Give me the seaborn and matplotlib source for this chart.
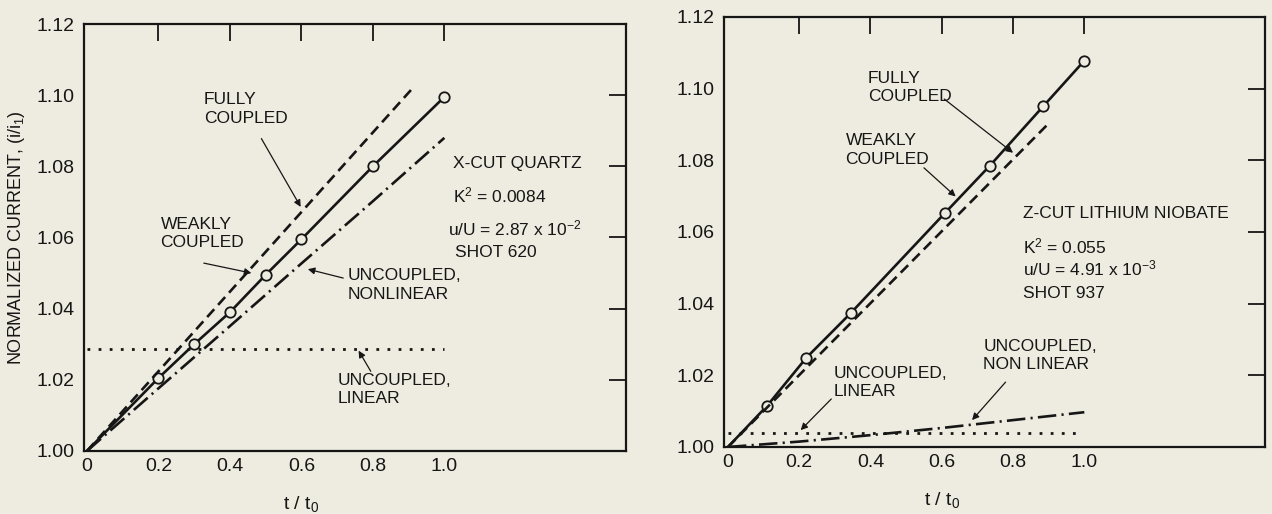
import numpy as np
import seaborn as sns
import matplotlib.pyplot as plt

# ---- data ----
t_ticks = [0, 0.2, 0.4, 0.6, 0.8, 1.0]
t_tick_labels = ["0", "0.2", "0.4", "0.6", "0.8", "1.0"]
i_ticks = [1.00, 1.02, 1.04, 1.06, 1.08, 1.10, 1.12]
i_tick_labels = ["1.00", "1.02", "1.04", "1.06", "1.08", "1.10", "1.12"]

# X-cut quartz (shot 620)
q_weak_t = [0, 0.2, 0.3, 0.4, 0.5, 0.6, 0.8, 1.0]
q_weak_i = [1.000, 1.0205, 1.030, 1.039, 1.0495, 1.0595, 1.080, 1.0995]
q_full_t = [0, 0.915]
q_full_i = [1.000, 1.1024]
q_nonlin_t = [0, 0.2, 0.4, 0.6, 0.8, 1.0]
q_nonlin_i = [1.000, 1.0176, 1.0351, 1.0527, 1.0702, 1.088]
q_lin_t = [0, 1.0]
q_lin_i = [1.0287, 1.0287]

# Z-cut lithium niobate (shot 937)
n_weak_t = [0, 0.11, 0.22, 0.345, 0.61, 0.735, 0.885, 1.0]
n_weak_i = [1.000, 1.0115, 1.0249, 1.0374, 1.0654, 1.0785, 1.0951, 1.1078]
n_full_t = [0, 0.903]
n_full_i = [1.000, 1.0906]
n_nonlin_t = [0, 0.2, 0.4, 0.6, 0.8, 1.0]
n_nonlin_i = [1.000, 1.0015, 1.0033, 1.0053, 1.0075, 1.0097]
n_lin_t = [0, 0.99]
n_lin_i = [1.0038, 1.0038]

bg = "#eeece0"
ink = "#161616"

sns.set_style("white")
plt.rcParams["font.family"] = ["Liberation Sans", "DejaVu Sans"]
plt.rcParams["mathtext.fontset"] = "custom"
plt.rcParams["mathtext.rm"] = "Liberation Sans"

fig = plt.figure(figsize=(12.72, 5.14), dpi=100, facecolor=bg)
ax1 = fig.add_axes([0.0660, 0.1226, 0.4261, 0.8307])
ax2 = fig.add_axes([0.5692, 0.1304, 0.4253, 0.8366])

DASH = (0, (4, 2.2))
DASHDOT = (0, (7, 2, 0.8, 2))
DOT = (0, (1, 3))


def draw_panel(ax, weak, full, nonlin, lin, xlim):
    ax.set_facecolor(bg)
    sns.lineplot(x=weak[0], y=weak[1], ax=ax, color=ink, lw=1.9, marker="o",
                 markevery=list(range(1, len(weak[0]))), markersize=7.5,
                 markerfacecolor=bg, markeredgecolor=ink, markeredgewidth=1.3)
    sns.lineplot(x=full[0], y=full[1], ax=ax, color=ink, lw=1.9, linestyle=DASH)
    sns.lineplot(x=nonlin[0], y=nonlin[1], ax=ax, color=ink, lw=1.9, linestyle=DASHDOT)
    sns.lineplot(x=lin[0], y=lin[1], ax=ax, color=ink, lw=2.0, linestyle=DOT)

    ax.set_xlim(*xlim)
    ax.set_ylim(1.0, 1.12)
    ax.set_xticks(t_ticks)
    ax.set_xticklabels(t_tick_labels)
    ax.set_yticks(i_ticks)
    ax.set_yticklabels(i_tick_labels)
    ax.tick_params(direction="in", length=12, width=1.3, top=True, right=True,
                   labeltop=False, labelright=False, labelsize=14,
                   colors=ink)
    ax.tick_params(axis="x", pad=5)
    ax.tick_params(axis="y", pad=7)
    # no tick marks where they would sit on the frame
    for tk in [ax.xaxis.get_major_ticks()[0], ax.yaxis.get_major_ticks()[0],
               ax.yaxis.get_major_ticks()[-1]]:
        tk.tick1line.set_visible(False)
        tk.tick2line.set_visible(False)
    for sp in ax.spines.values():
        sp.set_color(ink)
        sp.set_linewidth(1.6)
    ax.set_xlabel(r"t / t$\mathregular{_0}$", fontsize=14, color=ink)
    ax.xaxis.set_label_coords((0.6 - xlim[0]) / (xlim[1] - xlim[0]), -0.10)
    ax.set_ylabel("")


def note(ax, s, x, y, **kw):
    ax.text(x, y, s, fontsize=12.5, color=ink, linespacing=1.3, **kw)


def arrow(ax, start, tip):
    ax.annotate("", xy=tip, xytext=start,
                arrowprops=dict(arrowstyle="-|>", color=ink, lw=0.9,
                                mutation_scale=10, shrinkA=0, shrinkB=0))


draw_panel(ax1, (q_weak_t, q_weak_i), (q_full_t, q_full_i),
           (q_nonlin_t, q_nonlin_i), (q_lin_t, q_lin_i), (-0.0084, 1.508))
draw_panel(ax2, (n_weak_t, n_weak_i), (n_full_t, n_full_i),
           (n_nonlin_t, n_nonlin_i), (n_lin_t, n_lin_i), (-0.011, 1.507))

ax1.set_ylabel("NORMALIZED CURRENT, (i/i$\\mathregular{_1}$)", fontsize=13, color=ink)
ax1.yaxis.set_label_coords(-0.105, 0.5)

# left panel notes
note(ax1, "FULLY\nCOUPLED", 0.327, 1.1008, va="top")
arrow(ax1, (0.488, 1.0878), (0.598, 1.0686))
note(ax1, "WEAKLY\nCOUPLED", 0.206, 1.0658, va="top")
arrow(ax1, (0.327, 1.0528), (0.46, 1.0500))
note(ax1, "UNCOUPLED,\nNONLINEAR", 0.729, 1.0513, va="top")
arrow(ax1, (0.717, 1.0486), (0.618, 1.0511))
note(ax1, "UNCOUPLED,\nLINEAR", 0.702, 1.0220, va="top")
arrow(ax1, (0.794, 1.0224), (0.760, 1.0282))
note(ax1, "X-CUT QUARTZ", 1.025, 1.0794, va="baseline")
note(ax1, "K$\\mathregular{^2}$ = 0.0084", 1.025, 1.0700, va="baseline")
note(ax1, "u/U = 2.87 x 10$\\mathregular{^{-2}}$", 1.010, 1.0607, va="baseline")
note(ax1, "SHOT 620", 1.031, 1.0546, va="baseline")

# right panel notes
note(ax2, "FULLY\nCOUPLED", 0.393, 1.1050, va="top")
arrow(ax2, (0.607, 1.0971), (0.800, 1.0821))
note(ax2, "WEAKLY\nCOUPLED", 0.330, 1.0876, va="top")
arrow(ax2, (0.550, 1.0779), (0.639, 1.0699))
note(ax2, "Z-CUT LITHIUM NIOBATE", 0.828, 1.0640, va="baseline")
note(ax2, "K$\\mathregular{^2}$ = 0.055", 0.828, 1.0539, va="baseline")
note(ax2, "u/U = 4.91 x 10$\\mathregular{^{-3}}$", 0.828, 1.0478, va="baseline")
note(ax2, "SHOT 937", 0.828, 1.0417, va="baseline")
note(ax2, "UNCOUPLED,\nNON LINEAR", 0.717, 1.0302, va="top")
arrow(ax2, (0.779, 1.0181), (0.685, 1.0075))
note(ax2, "UNCOUPLED,\nLINEAR", 0.296, 1.0227, va="top")
arrow(ax2, (0.290, 1.0134), (0.204, 1.0047))

fig.savefig("out.png", dpi=100, facecolor=bg)
